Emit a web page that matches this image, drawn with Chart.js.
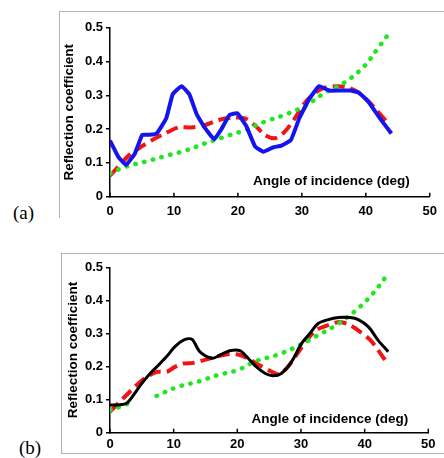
<!DOCTYPE html>
<html>
<head>
<meta charset="utf-8">
<script src="https://cdn.jsdelivr.net/npm/chart.js@4"></script>
<style>
  html, body { margin:0; padding:0; background:#fff; }
  body { width:444px; height:458px; position:relative; overflow:hidden; }
  canvas { position:absolute; left:0; }
  .ln { position:absolute; background:#b4b4b4; }
  .lab { position:absolute; font-family:"Liberation Serif","Times New Roman",serif; font-size:19px; color:#000; line-height:1; }
</style>
</head>
<body>
<div class="ln" style="left:59px;top:11px;width:385px;height:1px;"></div>
<div class="ln" style="left:59px;top:11px;width:1px;height:207px;"></div>
<div class="ln" style="left:61px;top:253px;width:383px;height:1px;"></div>
<div class="ln" style="left:61px;top:253px;width:1px;height:200px;"></div>
<div class="ln" style="left:61px;top:453px;width:383px;height:1px;"></div>
<div class="lab" style="left:13px;top:203px;">(a)</div>
<div class="lab" style="left:19px;top:438px;">(b)</div>
<canvas id="ca" width="444" height="230" style="top:0;width:444px;height:230px;"></canvas>
<canvas id="cb" width="444" height="228" style="top:230px;width:444px;height:228px;"></canvas>
<script>
// ---- tick values ----
const xTicks = [0, 10, 20, 30, 40, 50];
const yTicks = [0, 0.1, 0.2, 0.3, 0.4, 0.5];
const xTitle = 'Angle of incidence (deg)';
const yTitle = 'Reflection coefficient';

// ---- panel (a) ----
const blueAX = [0,1.3,2.5,3.9,5.05,6.2,7.3,8.8,9.8,11.2,12.4,13.6,14.9,16.3,17.4,18.7,19.9,21.3,22.7,24.0,25.5,26.8,28.3,29.6,31.2,32.7,34.3,35.8,37.6,38.9,40.4,42.2,44.0];
const blueAY = [0.166,0.118,0.094,0.128,0.183,0.183,0.187,0.232,0.303,0.327,0.303,0.242,0.202,0.170,0.199,0.242,0.247,0.209,0.148,0.133,0.146,0.151,0.168,0.232,0.291,0.327,0.314,0.314,0.314,0.308,0.281,0.232,0.187];
const redAX = [0,1.5,3,4.9,6.6,8.6,10.7,12.7,14.9,17,19,21.1,22.6,24.2,25.8,27.3,28.9,30.4,32,33.5,35.6,37.2,38.7,40.2,41.7,43.5];
const redAY = [0.062,0.093,0.123,0.148,0.168,0.187,0.205,0.205,0.212,0.227,0.234,0.232,0.212,0.183,0.173,0.192,0.232,0.276,0.306,0.322,0.327,0.323,0.310,0.286,0.256,0.217];
const greenAX = [0,2.5,5.6,8.6,11.7,14.9,18,21.1,24.2,27.3,30.4,33.5,36.6,39.7,41.7,43.8];
const greenAY = [0.069,0.089,0.104,0.120,0.136,0.158,0.178,0.197,0.222,0.242,0.268,0.306,0.337,0.385,0.434,0.488];

// ---- panel (b) ----
const blackBX = [0,1.3,2.6,3.7,5,6.3,7.6,8.9,10.2,11.8,12.9,14.1,16,17.3,18.8,20.4,21.7,23,24.4,25.6,26.9,28.5,30.1,31.4,32.7,34.3,35.9,37.7,39,40.6,42.1,43.7];
const blackBY = [0.084,0.084,0.089,0.114,0.149,0.179,0.204,0.230,0.260,0.282,0.282,0.245,0.225,0.235,0.248,0.248,0.225,0.199,0.179,0.172,0.179,0.214,0.270,0.300,0.330,0.342,0.348,0.348,0.342,0.320,0.280,0.245];
const redBX = [0,1.3,2.6,4.2,5.8,7.4,8.9,10.2,11.5,13.1,14.9,16.7,18.8,20.4,21.9,23.5,25.1,26.4,27.7,29.3,30.9,32.4,34.3,36.1,37.7,39.3,40.9,42.1,43.2];
const redBY = [0.063,0.089,0.114,0.144,0.169,0.184,0.184,0.199,0.209,0.211,0.220,0.230,0.238,0.235,0.222,0.204,0.187,0.177,0.194,0.235,0.280,0.310,0.325,0.335,0.325,0.305,0.280,0.250,0.220];
const greenBX = [0,1.5,2.9,5,7.3,10.7,13.8,16.9,20,23,26.2,29.3,32.4,35.5,38.7,41.3,43.7];
const greenBY = [0.068,0.078,0.088,null,0.111,0.139,0.154,0.174,0.189,0.217,0.235,0.260,0.292,0.325,0.371,0.421,0.481];

const pts = (xs, ys) => xs.map((x, i) => ({x: x, y: ys[i]}));
const FONT = '"Liberation Sans", Arial, Helvetica, sans-serif';

const innerTicks = {
  id: 'innerTicks',
  afterDraw(chart, args, opts) {
    const {ctx, chartArea} = chart;
    const x = chart.scales.x;
    ctx.save();
    ctx.strokeStyle = '#000';
    ctx.lineWidth = 1.5;
    x.ticks.forEach(t => {
      const px = x.getPixelForValue(t.value);
      ctx.beginPath();
      ctx.moveTo(px, chartArea.bottom);
      ctx.lineTo(px, chartArea.bottom - 4);
      ctx.stroke();
    });
    ctx.font = 'bold ' + opts.size + 'px ' + FONT;
    ctx.fillStyle = '#000';
    ctx.textAlign = 'right';
    ctx.textBaseline = 'middle';
    ctx.fillText(xTitle, chartArea.right - opts.dx, chartArea.bottom - opts.dy);
    ctx.restore();
  }
};

function makeChart(id, datasets, pad, xH, xPad, titlePad, tdx, tdy) {
  return new Chart(document.getElementById(id), {
    type: 'line',
    data: { datasets: datasets },
    options: {
      responsive: false,
      animation: false,
      devicePixelRatio: 1,
      layout: { padding: pad },
      plugins: { legend: {display:false}, tooltip: {enabled:false}, innerTicks: {dx: tdx, dy: tdy, size: 13.5} },
      elements: { point: { radius: 0 } },
      scales: {
        x: {
          type: 'linear', min: 0, max: 50,
          afterBuildTicks: s => { s.ticks = xTicks.map(v => ({value: v})); },
          afterFit: s => { s.height = xH; },
          grid: { display: true, drawOnChartArea: false, drawTicks: false },
          border: { display: true, color: '#000', width: 1.5 },
          ticks: { color: '#000', padding: xPad, maxRotation: 0, autoSkip: false, font: { family: FONT, size: 13, weight: 'bold' } }
        },
        y: {
          type: 'linear', min: 0, max: 0.5,
          afterBuildTicks: s => { s.ticks = yTicks.map(v => ({value: v})); },
          afterFit: s => { s.width = 110; },
          grid: { display: true, drawOnChartArea: false, drawTicks: true, tickLength: 4, color: '#000', lineWidth: 1.5 },
          border: { display: true, color: '#000', width: 1.5 },
          ticks: { color: '#000', padding: 3, autoSkip: false, font: { family: FONT, size: 13, weight: 'bold' },
                   callback: v => (v === 0 ? '0' : v.toFixed(1)) },
          title: { display: true, text: yTitle, color: '#000', padding: { top: titlePad, bottom: 0 },
                   font: { family: FONT, size: 13.5, weight: 'bold' } }
        }
      }
    },
    plugins: [innerTicks]
  });
}

makeChart('ca', [
  { data: pts(blueAX, blueAY), borderColor: '#1414f0', borderWidth: 4, tension: 0.1, fill: false },
  { data: pts(greenAX, greenAY), borderColor: '#22e622', borderWidth: 4.5, borderDash: [0.5, 8.5], borderCapStyle: 'round', tension: 0.4, fill: false },
  { data: pts(redAX, redAY), borderColor: '#f01414', borderWidth: 4, borderDash: [12, 6], tension: 0.3, fill: false }
], { top: 27.7, right: 10.7, bottom: 0, left: 0 }, 33.3, 7, 61.6, 20, 15);

makeChart('cb', [
  { data: pts(blackBX, blackBY), borderColor: '#000', borderWidth: 3, tension: 0.3, fill: false },
  { data: pts(greenBX, greenBY), borderColor: '#22e622', borderWidth: 4.5, borderDash: [0.5, 8.5], borderCapStyle: 'round', tension: 0.4, fill: false, spanGaps: false },
  { data: pts(redBX, redBY), borderColor: '#f01414', borderWidth: 4, borderDash: [12, 6], tension: 0.3, fill: false }
], { top: 37.3, right: 15.7, bottom: 0, left: 0 }, 25.3, 4, 65, 20, 13.4);
</script>
</body>
</html>
